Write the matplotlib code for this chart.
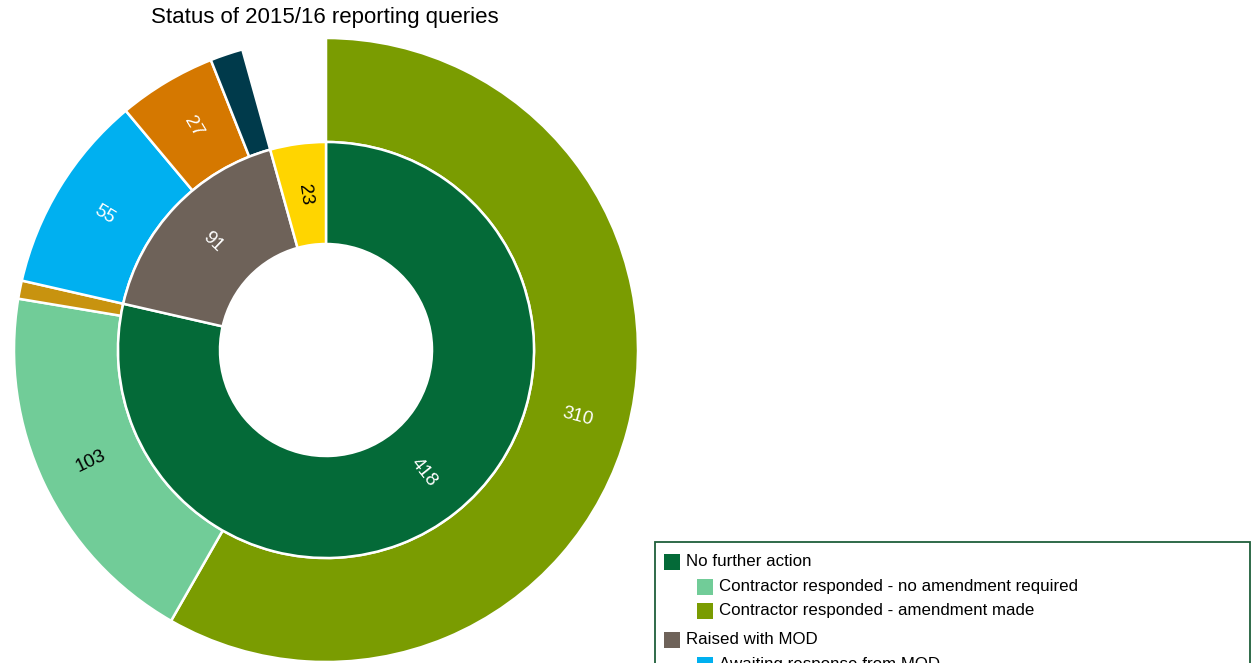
import numpy as np
import matplotlib.pyplot as plt
from matplotlib.patches import Rectangle

plt.rcParams['font.family'] = ['Liberation Sans', 'DejaVu Sans']

# inner ring: overall status of the queries
status = ['No further action', 'Raised with MOD', 'Outstanding']
status_n = [418, 91, 23]
status_col = ['#046a38', '#6e6259', '#ffd500']
status_txt = ['white', 'white', 'black']

# outer ring: breakdown of each status
detail = ['Contractor responded - amendment made',
          'Contractor responded - no amendment required',
          'Other',
          'Awaiting response from MOD',
          'MOD responded',
          'Escalated',
          'Outstanding']
detail_n = [310, 103, 5, 55, 27, 9, 23]
detail_col = ['#7a9c01', '#71cc98', '#c8930f', '#00b0f0', '#d57800', '#003a4b', 'white']
detail_txt = ['white', 'black', None, 'white', 'white', None, None]

# legend rows (indent level, text, colour)
leg_rows = [(0, 'No further action', '#046a38'),
            (1, 'Contractor responded - no amendment required', '#71cc98'),
            (1, 'Contractor responded - amendment made', '#7a9c01'),
            (0, 'Raised with MOD', '#6e6259'),
            (1, 'Awaiting response from MOD', '#00b0f0')]
leg_y = [562, 587, 611, 640, 665]

W, H = 1255, 663
cx, cy, R = 326, 350, 312

fig = plt.figure(figsize=(W / 100, H / 100), dpi=100)
ax = fig.add_axes([0, 0, 1, 1])

outer, _ = ax.pie(detail_n, radius=1.0, colors=detail_col, startangle=90,
                  counterclock=False,
                  wedgeprops=dict(width=104 / R, edgecolor='white', linewidth=1.8))
outer[-1].set_visible(False)
inner, _ = ax.pie(status_n, radius=208 / R, colors=status_col, startangle=90,
                  counterclock=False,
                  wedgeprops=dict(width=102 / R, edgecolor='white', linewidth=1.8))

# pie() resets limits and aspect, so place the rings afterwards
ax.set_aspect('auto')
ax.set_xlim(-cx / R, (W - cx) / R)
ax.set_ylim(-(H - cy) / R, cy / R)
ax.axis('off')


def label_ring(wedges, values, txtcols):
    for w, v, c in zip(wedges, values, txtcols):
        if c is None:
            continue
        mid = (w.theta1 + w.theta2) / 2.0
        r = w.r - w.width / 2.0
        x = r * np.cos(np.deg2rad(mid))
        y = r * np.sin(np.deg2rad(mid))
        rot = (mid + 180) % 360 - 180
        if rot > 90:
            rot -= 180
        elif rot < -90:
            rot += 180
        ax.text(x, y, str(v), color=c, fontsize=13.5, ha='center', va='center',
                rotation=rot, rotation_mode='anchor')


label_ring(outer, detail_n, detail_txt)
label_ring(inner, status_n, status_txt)

fig.text(325 / W, 1 - 18 / H, 'Status of 2015/16 reporting queries',
         fontsize=16, ha='center', va='center')

# legend box, runs past the bottom edge
fx = lambda px: px / W
fy = lambda py: 1 - py / H
fig.patches.append(Rectangle((fx(655), fy(700)), fx(1250) - fx(655), fy(542) - fy(700),
                             transform=fig.transFigure, facecolor='white',
                             edgecolor='#1f5f3a', linewidth=1.3))
for (lvl, txt, col), y in zip(leg_rows, leg_y):
    sx = 664 if lvl == 0 else 697
    fig.patches.append(Rectangle((fx(sx), fy(y + 8)), 16 / W, 16 / H,
                                 transform=fig.transFigure, facecolor=col,
                                 edgecolor='none'))
    fig.text(fx(sx + 22), fy(y), txt, fontsize=12.2, ha='left', va='center')

fig.savefig('out.png', dpi=100)
